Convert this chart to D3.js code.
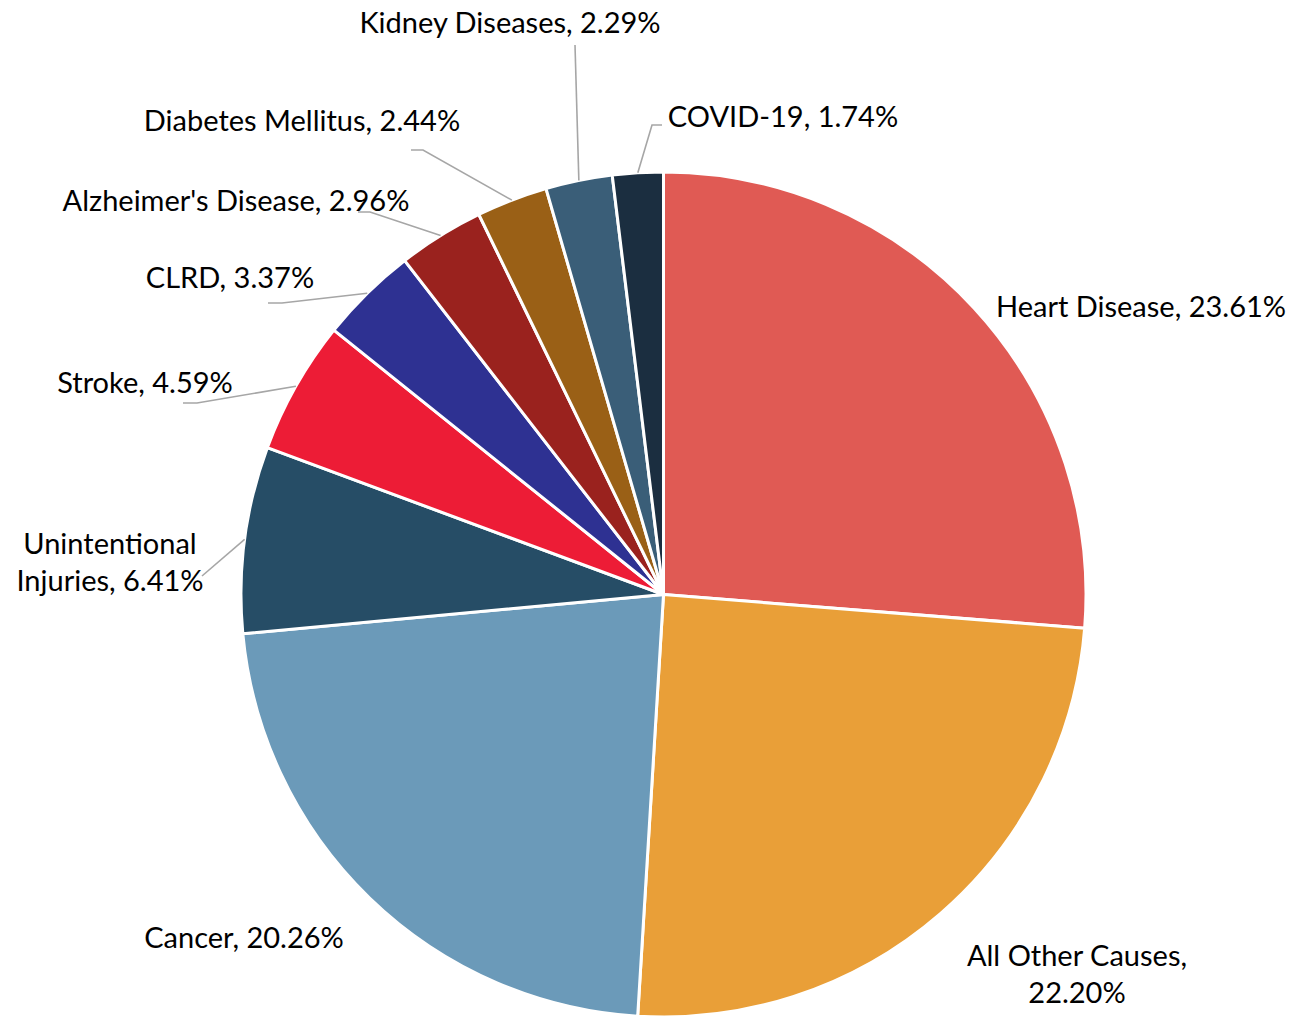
<!DOCTYPE html>
<html>
<head>
<meta charset="utf-8">
<script src="https://cdn.jsdelivr.net/npm/d3@7"></script>
<style>
  html, body { margin: 0; padding: 0; background: #fff; }
  svg { display: block; }
  text { font-family: Lato, "Open Sans", sans-serif; fill: #000; }
</style>
</head>
<body>
<svg id="chart" width="1289" height="1016"></svg>
<script>
// Leading causes of death, share of all deaths (%)
const causes = [
  "Heart Disease", "All Other Causes", "Cancer", "Unintentional Injuries",
  "Stroke", "CLRD", "Alzheimer's Disease", "Diabetes Mellitus",
  "Kidney Diseases", "COVID-19"
];
const shares = [23.61, 22.20, 20.26, 6.41, 4.59, 3.37, 2.96, 2.44, 2.29, 1.74];
const sliceColors = [
  "#E05A54", "#E99F38", "#6B9AB9", "#264D66", "#ED1C36",
  "#2E3192", "#9A221E", "#9A6016", "#3A5E78", "#1B2E40"
];

// Label placement: text lines, anchor point, and leader-line bend points.
const labelLayout = {
  "Heart Disease":          { lines: ["Heart Disease, 23.61%"], x: 1141, y: 305 },
  "All Other Causes":       { lines: ["All Other Causes,", "22.20%"], x: 1077, y: 954 },
  "Cancer":                 { lines: ["Cancer, 20.26%"], x: 244, y: 936 },
  "Unintentional Injuries": { lines: ["Unintentional", "Injuries, 6.41%"], x: 110, y: 542, leader: [[202, 576]] },
  "Stroke":                 { lines: ["Stroke, 4.59%"], x: 145, y: 381, leader: [[197, 403], [183, 403]] },
  "CLRD":                   { lines: ["CLRD, 3.37%"], x: 230, y: 276, leader: [[282, 303], [268, 303]] },
  "Alzheimer's Disease":    { lines: ["Alzheimer's Disease, 2.96%"], x: 236, y: 199, leader: [[370, 212], [358, 212]] },
  "Diabetes Mellitus":      { lines: ["Diabetes Mellitus, 2.44%"], x: 302, y: 119, leader: [[423, 150], [411, 150]] },
  "Kidney Diseases":        { lines: ["Kidney Diseases, 2.29%"], x: 510, y: 21, leader: [[575, 45]] },
  "COVID-19":               { lines: ["COVID-19, 1.74%"], x: 783, y: 115, leader: [[652, 125], [662, 125]] }
};

const svg = d3.select("#chart");
const cx = 663.5, cy = 594.5, radius = 422.5;
const fontSize = 29, lineGap = 37;

const data = causes.map((c, i) => ({ cause: c, value: shares[i], color: sliceColors[i] }));

const pie = d3.pie().value(d => d.value).sort(null);
const arc = d3.arc().innerRadius(0).outerRadius(radius);
const arcs = pie(data);

const g = svg.append("g").attr("transform", `translate(${cx},${cy})`);

g.selectAll("path.slice")
  .data(arcs)
  .join("path")
  .attr("class", "slice")
  .attr("d", arc)
  .attr("fill", d => d.data.color)
  .attr("stroke", "#fff")
  .attr("stroke-width", 3)
  .attr("stroke-linejoin", "round");

// Leader lines from the slice's outer edge at its middle angle
const leaderLine = d3.line();
arcs.forEach(a => {
  const lay = labelLayout[a.data.cause];
  if (!lay.leader) return;
  const mid = (a.startAngle + a.endAngle) / 2;
  const start = [cx + radius * Math.sin(mid), cy - radius * Math.cos(mid)];
  svg.append("path")
    .attr("d", leaderLine([start, ...lay.leader]))
    .attr("fill", "none")
    .attr("stroke", "#A6A6A6")
    .attr("stroke-width", 1.6);
});

// Category labels
arcs.forEach(a => {
  const lay = labelLayout[a.data.cause];
  const t = svg.append("text")
    .attr("x", lay.x)
    .attr("y", lay.y)
    .attr("text-anchor", "middle")
    .attr("dominant-baseline", "central")
    .style("font-size", fontSize + "px");
  lay.lines.forEach((ln, i) => {
    t.append("tspan")
      .attr("x", lay.x)
      .attr("y", lay.y + i * lineGap)
      .text(ln);
  });
});
</script>
</body>
</html>
